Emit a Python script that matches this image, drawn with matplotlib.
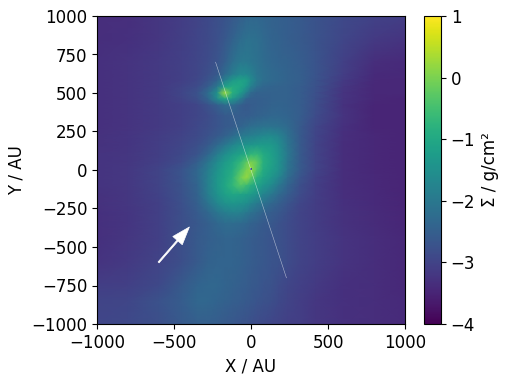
import numpy as np
import matplotlib
matplotlib.use('Agg')
import matplotlib.pyplot as plt

# surface density, log10(g/cm2), on an uneven grid
x_au = [-1000, -800, -600, -450, -350, -280, -220, -170, -120, -70, -30, 0, 40, 80, 130, 180, 240, 320, 420, 600, 800, 1000]
y_au = [1000, 850, 700, 620, 580, 540, 500, 460, 420, 350, 280, 220, 160, 100, 50, 0, -50, -100, -160, -220, -280, -350, -450, -600, -750, -850, -1000]
log_sigma = [
    [-3.35, -3.32, -3.20, -3.10, -3.00, -2.90, -2.80, -2.72, -2.62, -2.50, -2.40, -2.35, -2.35, -2.38, -2.42, -2.48, -2.52, -2.60, -2.72, -2.90, -3.02, -3.10],
    [-3.35, -3.30, -3.20, -3.08, -2.98, -2.88, -2.78, -2.65, -2.45, -2.25, -2.15, -2.15, -2.20, -2.30, -2.40, -2.45, -2.52, -2.60, -2.72, -2.95, -3.15, -3.25],
    [-3.30, -3.25, -3.15, -3.05, -2.95, -2.85, -2.70, -2.50, -2.20, -2.00, -2.00, -2.05, -2.15, -2.25, -2.35, -2.40, -2.45, -2.55, -2.70, -3.05, -3.35, -3.40],
    [-3.30, -3.25, -3.15, -3.05, -2.95, -2.80, -2.60, -2.25, -1.90, -1.65, -1.65, -1.80, -2.05, -2.20, -2.30, -2.35, -2.42, -2.50, -2.70, -3.10, -3.40, -3.42],
    [-3.30, -3.25, -3.15, -3.05, -2.92, -2.70, -2.40, -1.80, -1.30, -1.10, -1.20, -1.60, -2.00, -2.20, -2.30, -2.35, -2.42, -2.50, -2.72, -3.15, -3.42, -3.45],
    [-3.30, -3.25, -3.15, -3.00, -2.85, -2.55, -2.00, -1.15, -0.95, -1.05, -1.35, -1.85, -2.20, -2.35, -2.40, -2.42, -2.45, -2.55, -2.75, -3.20, -3.45, -3.45],
    [-3.30, -3.25, -3.15, -2.95, -2.75, -2.25, -1.50, 0.25, -0.85, -1.25, -1.85, -2.30, -2.45, -2.45, -2.45, -2.42, -2.45, -2.55, -2.78, -3.25, -3.45, -3.45],
    [-3.30, -3.25, -3.15, -3.00, -2.80, -2.40, -1.60, -1.10, -1.35, -1.90, -2.40, -2.50, -2.50, -2.48, -2.45, -2.42, -2.45, -2.55, -2.80, -3.25, -3.45, -3.48],
    [-3.30, -3.25, -3.15, -3.05, -2.95, -2.75, -2.50, -2.30, -2.30, -2.50, -2.60, -2.55, -2.50, -2.48, -2.42, -2.40, -2.45, -2.55, -2.82, -3.28, -3.48, -3.48],
    [-3.30, -3.25, -3.15, -3.05, -2.95, -2.85, -2.70, -2.60, -2.55, -2.55, -2.55, -2.50, -2.45, -2.40, -2.35, -2.35, -2.40, -2.55, -2.85, -3.25, -3.48, -3.48],
    [-3.30, -3.25, -3.15, -3.05, -2.92, -2.82, -2.70, -2.60, -2.55, -2.40, -2.30, -2.20, -2.15, -2.10, -2.10, -2.15, -2.30, -2.60, -2.95, -3.30, -3.48, -3.48],
    [-3.28, -3.22, -3.12, -3.00, -2.88, -2.75, -2.60, -2.45, -2.25, -2.00, -1.90, -1.85, -1.75, -1.65, -1.60, -1.75, -2.15, -2.60, -2.98, -3.32, -3.45, -3.48],
    [-3.28, -3.22, -3.10, -2.95, -2.80, -2.60, -2.30, -2.00, -1.70, -1.50, -1.40, -1.35, -1.30, -1.25, -1.30, -1.55, -2.05, -2.60, -3.00, -3.35, -3.45, -3.48],
    [-3.25, -3.20, -3.08, -2.90, -2.70, -2.35, -1.90, -1.55, -1.30, -1.10, -0.90, -0.70, -0.65, -0.95, -1.15, -1.45, -2.00, -2.60, -3.00, -3.35, -3.45, -3.48],
    [-3.25, -3.20, -3.05, -2.85, -2.50, -2.05, -1.60, -1.30, -1.05, -0.70, -0.25, 0.00, -0.25, -0.85, -1.10, -1.45, -2.05, -2.60, -3.00, -3.35, -3.45, -3.48],
    [-3.25, -3.18, -3.00, -2.70, -2.35, -1.90, -1.45, -1.15, -0.95, -0.45, 0.00, 0.20, -0.40, -0.95, -1.20, -1.50, -2.10, -2.60, -3.00, -3.35, -3.45, -3.48],
    [-3.25, -3.18, -3.00, -2.70, -2.35, -1.85, -1.35, -1.10, -0.80, -0.15, 0.20, -0.20, -0.80, -1.10, -1.35, -1.70, -2.25, -2.70, -3.05, -3.35, -3.42, -3.48],
    [-3.25, -3.18, -3.00, -2.72, -2.40, -1.85, -1.35, -1.05, -0.70, -0.35, -0.55, -0.85, -1.10, -1.35, -1.60, -2.00, -2.40, -2.80, -3.08, -3.35, -3.42, -3.48],
    [-3.28, -3.20, -3.02, -2.75, -2.45, -1.90, -1.45, -1.20, -1.05, -1.10, -1.20, -1.30, -1.50, -1.75, -2.00, -2.30, -2.55, -2.85, -3.10, -3.32, -3.40, -3.48],
    [-3.28, -3.20, -3.05, -2.78, -2.50, -2.10, -1.70, -1.50, -1.40, -1.45, -1.55, -1.75, -1.95, -2.15, -2.35, -2.50, -2.70, -2.95, -3.12, -3.30, -3.40, -3.48],
    [-3.30, -3.22, -3.05, -2.80, -2.58, -2.35, -2.05, -1.90, -1.80, -1.85, -2.00, -2.15, -2.30, -2.45, -2.55, -2.65, -2.80, -3.00, -3.12, -3.28, -3.38, -3.46],
    [-3.30, -3.22, -3.05, -2.80, -2.65, -2.50, -2.35, -2.25, -2.25, -2.30, -2.35, -2.45, -2.50, -2.60, -2.65, -2.75, -2.85, -3.00, -3.12, -3.28, -3.38, -3.46],
    [-3.30, -3.20, -3.05, -2.80, -2.60, -2.50, -2.45, -2.40, -2.40, -2.45, -2.50, -2.55, -2.60, -2.65, -2.70, -2.75, -2.85, -3.00, -3.10, -3.25, -3.35, -3.45],
    [-3.25, -3.15, -3.00, -2.80, -2.60, -2.45, -2.40, -2.40, -2.40, -2.45, -2.50, -2.55, -2.60, -2.65, -2.70, -2.75, -2.85, -3.00, -3.10, -3.25, -3.35, -3.45],
    [-3.10, -3.05, -2.90, -2.60, -2.40, -2.35, -2.35, -2.40, -2.45, -2.50, -2.55, -2.60, -2.65, -2.70, -2.75, -2.85, -2.95, -3.05, -3.15, -3.30, -3.35, -3.45],
    [-3.00, -2.95, -2.75, -2.55, -2.35, -2.35, -2.40, -2.45, -2.50, -2.55, -2.60, -2.65, -2.70, -2.75, -2.80, -2.90, -3.00, -3.10, -3.20, -3.30, -3.35, -3.40],
    [-2.95, -2.90, -2.80, -2.60, -2.50, -2.50, -2.55, -2.60, -2.65, -2.70, -2.75, -2.80, -2.85, -2.90, -2.95, -3.00, -3.05, -3.10, -3.20, -3.30, -3.35, -3.40],
]
# thin line through both objects, the arrow and the small dark spot at the centre
line_x = [-230, 230]
line_y = [700, -700]
arrow_start = (-600, -600)
arrow_end = (-400, -370)
spot_x = [-3]
spot_y = [4]

plt.rcParams['font.size'] = 12

fig = plt.figure(figsize=(5.09, 3.79), dpi=100)
ax = fig.add_axes([97 / 509, 1 - 324 / 379, 308 / 509, 308 / 379])
cax = fig.add_axes([424 / 509, 1 - 324 / 379, 17 / 509, 308 / 379])

mesh = ax.pcolormesh(x_au, y_au, np.array(log_sigma), cmap='viridis', vmin=-4, vmax=1, shading='gouraud')
ax.plot(spot_x, spot_y, 's', color='#3b528b', ms=1.6, mew=0)
ax.plot(line_x, line_y, color='white', lw=0.4, alpha=0.6)
ax.annotate('', xy=arrow_end, xytext=arrow_start,
            arrowprops=dict(facecolor='white', edgecolor='white', width=1.0, headwidth=9, headlength=13, shrink=0, lw=0.5))

ax.set_xlim(-1000, 1000)
ax.set_ylim(-1000, 1000)
ax.set_xticks([-1000, -500, 0, 500, 1000])
ax.set_yticks([-1000, -750, -500, -250, 0, 250, 500, 750, 1000])
ax.set_xlabel('X / AU')
ax.set_ylabel('Y / AU')

cbar = fig.colorbar(mesh, cax=cax, label='Σ / g/cm²')
cbar.set_ticks([-4, -3, -2, -1, 0, 1])

fig.savefig('out.png', dpi=100)
